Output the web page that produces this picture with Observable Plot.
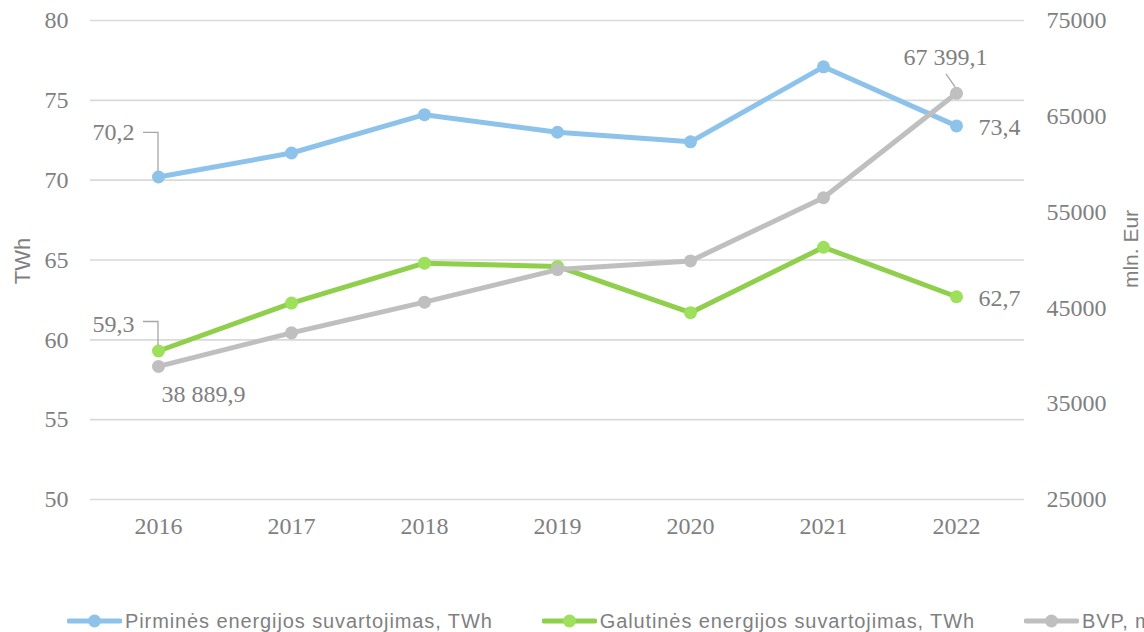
<!DOCTYPE html>
<html><head><meta charset="utf-8">
<script src="https://cdn.jsdelivr.net/npm/d3@7"></script>
<script src="https://cdn.jsdelivr.net/npm/@observablehq/plot@0.6"></script>
<style>
html,body{margin:0;padding:0;background:#fff;}
body{width:1144px;height:632px;overflow:hidden;position:relative;}
#legend{position:absolute;left:67px;top:608px;height:26px;display:flex;align-items:center;white-space:nowrap;font-family:"Liberation Sans",Arial,sans-serif;font-size:20px;letter-spacing:0.9px;color:#7f7f7f;}
.item{display:flex;align-items:center;margin-right:49px;}
.item svg{margin-right:3px;}
</style></head><body>
<div id="chart"></div>
<div id="legend"></div>
<script>
// ---- data ----
const years = ["2016","2017","2018","2019","2020","2021","2022"];
const primaryTWh = [70.2, 71.7, 74.1, 73.0, 72.4, 77.1, 73.4];
const finalTWh   = [59.3, 62.3, 64.8, 64.6, 61.7, 65.8, 62.7];
const gdpMlnEur  = [38889.9, 42400, 45600, 49000, 49900, 56500, 67399.1];
const leftTicks  = [50, 55, 60, 65, 70, 75, 80];
const rightTicks = [25000, 35000, 45000, 55000, 65000, 75000];
const seriesNames = ["Pirminės energijos suvartojimas, TWh", "Galutinės energijos suvartojimas, TWh", "BVP, mln. Eur"];
const leftTitle = "TWh";
const rightTitle = "mln. Eur";

// ---- styles ----
const lineColors = ["#8dc3ea", "#8fcf4c", "#bfbfbf"];
const dotColors  = ["#8dc3ea", "#9de05b", "#bfbfbf"];
const textGray = "#7f7f7f";
const serif = "Liberation Serif, Times New Roman, serif";
const sans = "Liberation Sans, Arial, sans-serif";

const leftDomain = [50, 80], rightDomain = [25000, 75000];
const toLeft = d3.scaleLinear(rightDomain, leftDomain);
const lt = d3.formatLocale({decimal: ",", thousands: " ", grouping: [3], currency: ["", ""]});
const fmt = lt.format(",.1f");

const seriesValues = [primaryTWh, finalTWh, gdpMlnEur];
const rows = [];
seriesValues.forEach((vals, s) => vals.forEach((v, i) => rows.push({
  series: s, year: years[i], raw: v, v: s === 2 ? toLeft(v) : v
})));
const rowOf = (s, i) => rows.find(r => r.series === s && r.year === years[i]);

// data label specs (series, year index, placement)
const labelSpecs = [
  {s: 0, i: 0, anchor: "end", dx: -24, dy: -45, leader: [[0, -5], [0, -44], [-15, -44]]},
  {s: 1, i: 0, anchor: "end", dx: -24, dy: -27, leader: [[0, -5], [0, -29], [-15, -29]]},
  {s: 2, i: 0, anchor: "middle", dx: 45, dy: 28, leader: null},
  {s: 2, i: 6, anchor: "middle", dx: -11, dy: -36, leader: [[-1, -6], [-10, -19]]},
  {s: 0, i: 6, anchor: "start", dx: 22, dy: 1, leader: null},
  {s: 1, i: 6, anchor: "start", dx: 22, dy: 2, leader: null}
];

const leaderMark = (index, scales, values, dimensions, context) => {
  const g = d3.create("svg:g").attr("fill", "none").attr("stroke", "#a6a6a6").attr("stroke-width", 1.3);
  for (const sp of labelSpecs) {
    if (!sp.leader) continue;
    const r = rowOf(sp.s, sp.i);
    const px = scales.x(r.year), py = scales.y(r.v);
    g.append("path").attr("d", "M" + sp.leader.map(([a, b]) => `${px + a},${py + b}`).join("L"));
  }
  return g.node();
};

const marks = [
  Plot.gridY(leftTicks, {stroke: "#d9d9d9", strokeOpacity: 1, strokeWidth: 1.6}),
  Plot.axisY(leftTicks, {anchor: "left", tickSize: 0, tickPadding: 22, label: null, fontFamily: serif, fontSize: 24, tickFormat: d => String(d)}),
  Plot.axisY(rightTicks, {anchor: "right", y: d => toLeft(d), tickSize: 0, tickPadding: 22, label: null, fontFamily: serif, fontSize: 24, tickFormat: d => String(d)}),
  Plot.axisX({tickSize: 0, tickPadding: 17, label: null, fontFamily: serif, fontSize: 24}),
  Plot.text([leftTitle], {frameAnchor: "left", textAnchor: "middle", rotate: -90, dx: -68, dy: 1, fontFamily: sans, fontSize: 22, fill: textGray}),
  Plot.text([rightTitle], {frameAnchor: "right", textAnchor: "middle", rotate: -90, dx: 107, dy: -11, fontFamily: sans, fontSize: 21, fill: textGray}),
];
[0, 1, 2].forEach(s => {
  const d = rows.filter(r => r.series === s);
  marks.push(Plot.line(d, {x: "year", y: "v", stroke: lineColors[s], strokeWidth: 5, strokeLinejoin: "round"}));
  marks.push(Plot.dot(d, {x: "year", y: "v", r: 6.5, fill: dotColors[s], stroke: null}));
});
marks.push(leaderMark);
labelSpecs.forEach(sp => {
  const r = rowOf(sp.s, sp.i);
  marks.push(Plot.text([r], {x: "year", y: "v", text: d => fmt(d.raw), textAnchor: sp.anchor, dx: sp.dx, dy: sp.dy, fontFamily: serif, fontSize: 24, fill: textGray}));
});

const chart = Plot.plot({
  width: 1144,
  height: 600,
  marginTop: 20,
  marginBottom: 101,
  marginLeft: 90,
  marginRight: 120,
  style: {color: textGray, fontFamily: serif, fontSize: "24px", background: "#fff"},
  x: {type: "point", domain: years, padding: 0.5},
  y: {domain: leftDomain},
  marks
});
document.getElementById("chart").appendChild(chart);

// ---- legend ----
const legend = d3.select("#legend");
seriesNames.forEach((name, s) => {
  const it = legend.append("div").attr("class", "item");
  const svg = it.append("svg").attr("width", 55).attr("height", 16);
  svg.append("line").attr("x1", 2).attr("x2", 53).attr("y1", 8).attr("y2", 8)
    .attr("stroke", lineColors[s]).attr("stroke-width", 5).attr("stroke-linecap", "round");
  svg.append("circle").attr("cx", 27.5).attr("cy", 8).attr("r", 6.5).attr("fill", dotColors[s]);
  it.append("span").text(name);
});
</script>
</body></html>
